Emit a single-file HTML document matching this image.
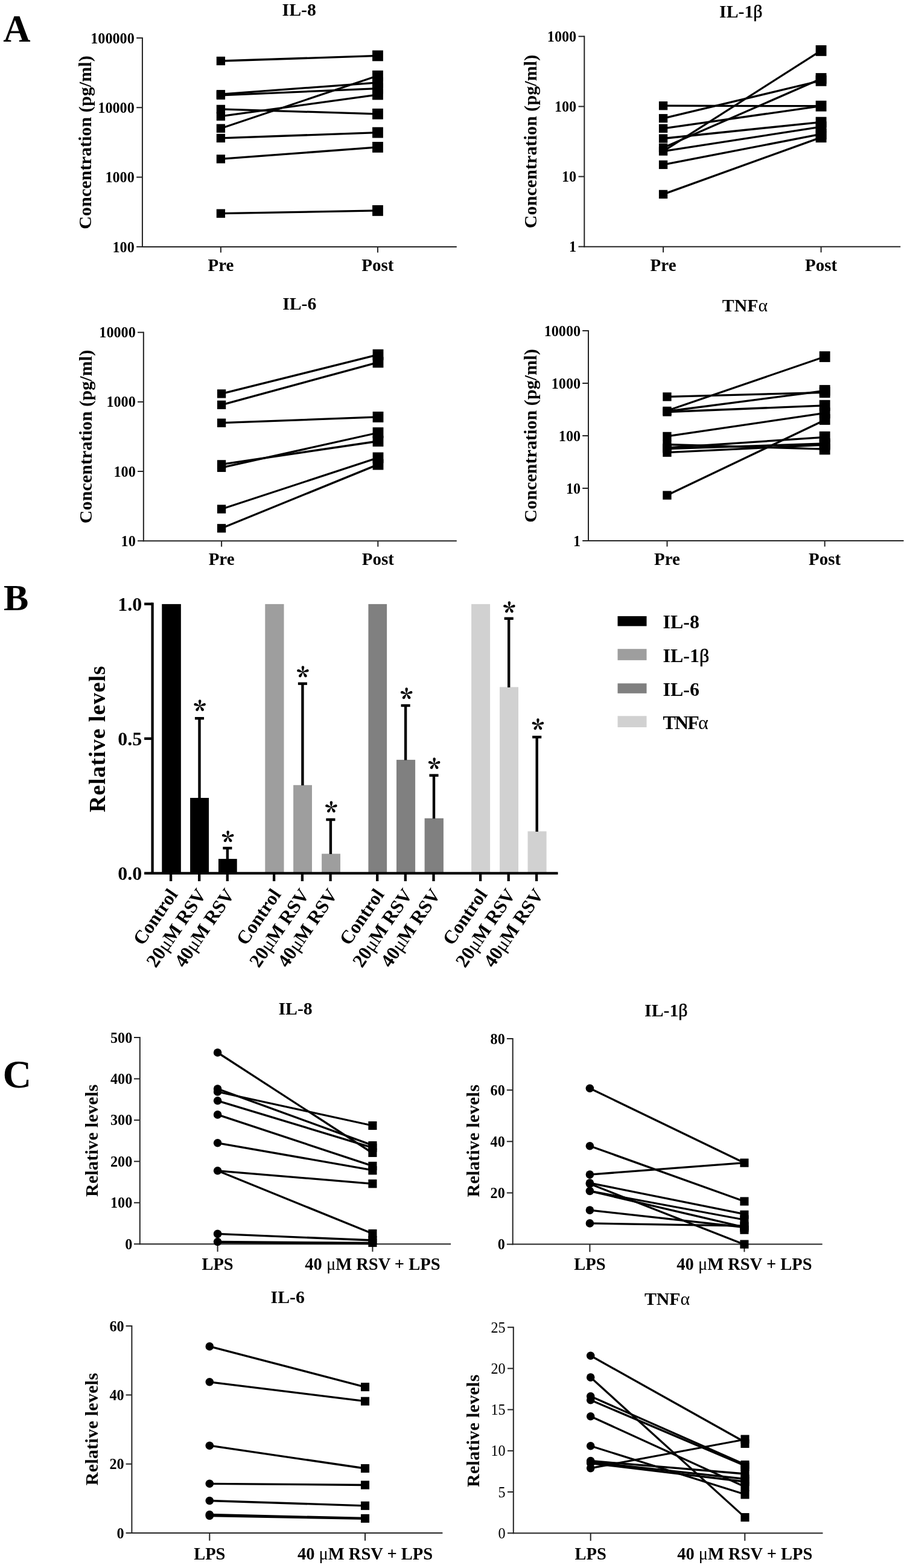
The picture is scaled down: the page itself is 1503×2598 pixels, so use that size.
<!DOCTYPE html>
<html lang="en">
<head>
<meta charset="utf-8">
<title>Cytokine levels: IL-8, IL-1β, IL-6, TNFα</title>
<style>
html,body{margin:0;padding:0;background:#fff;}
body{width:1503px;height:2598px;overflow:hidden;}
svg{display:block;font-family:"Liberation Serif","DejaVu Serif",serif;font-weight:bold;fill:#000;}
.ax{stroke:#242424;stroke-width:2;}
.bx{stroke:#000;stroke-width:4.3;}
.eb{stroke:#000;stroke-width:4.4;}
.ln{stroke:#000;stroke-width:3.3;}
.tk{font-size:24.2px;text-anchor:end;}
.xl{text-anchor:middle;}
.ti{font-size:29.8px;text-anchor:middle;}
.yl{font-size:30px;text-anchor:middle;}
.rl{font-size:31.5px;text-anchor:end;}
.lg{font-size:32px;}
.mu{font-weight:normal;}
.sb{font-weight:normal;stroke:#000;stroke-width:0.7px;}
.ast{font-family:"Noto Serif CJK SC","Liberation Serif",serif;font-size:42.5px;font-weight:900;text-anchor:middle;}
</style>
</head>
<body>
<svg width="1503" height="2598" viewBox="0 0 1503 2598" role="img" aria-label="Figure: cytokine concentrations and relative levels (panels A, B, C)">
<rect x="0" y="0" width="1503" height="2598" fill="#fff"/>
<g id="A-IL8" aria-label="Panel A: IL-8 concentration, Pre vs Post">
<g class="axes">
<line class="ax" x1="235.95" y1="61.9" x2="235.95" y2="409.9"/>
<line class="ax" x1="234.95" y1="408.9" x2="756.8" y2="408.9"/>
<line class="ax" x1="226.15" y1="62.9" x2="235.95" y2="62.9"/>
<line class="ax" x1="226.15" y1="178.23" x2="235.95" y2="178.23"/>
<line class="ax" x1="226.15" y1="293.57" x2="235.95" y2="293.57"/>
<line class="ax" x1="226.15" y1="408.9" x2="235.95" y2="408.9"/>
<line class="ax" x1="365.9" y1="408.9" x2="365.9" y2="418.5"/>
<line class="ax" x1="625.95" y1="408.9" x2="625.95" y2="418.5"/>
</g>
<g class="labels">
<text x="222.8" y="71.5" class="tk">100000</text>
<text x="222.8" y="186.83" class="tk">10000</text>
<text x="222.8" y="302.17" class="tk">1000</text>
<text x="222.8" y="417.5" class="tk">100</text>
<text x="365.9" y="448.7" class="xl" style="font-size:29px">Pre</text>
<text x="625.95" y="448.7" class="xl" style="font-size:29px">Post</text>
<text x="495.7" y="26" class="ti">IL-8</text>
<text transform="translate(151.3 236) rotate(-90)" class="yl" textLength="287.3" lengthAdjust="spacing">Concentration (pg/ml)</text>
</g>
<g class="pairs">
<line class="ln" x1="365.9" y1="101" x2="625.95" y2="92.4"/>
<line class="ln" x1="365.9" y1="156.2" x2="625.95" y2="136.8"/>
<line class="ln" x1="365.9" y1="157.8" x2="625.95" y2="146.6"/>
<line class="ln" x1="365.9" y1="180.9" x2="625.95" y2="188.8"/>
<line class="ln" x1="365.9" y1="192.7" x2="625.95" y2="156.9"/>
<line class="ln" x1="365.9" y1="212.7" x2="625.95" y2="125.5"/>
<line class="ln" x1="365.9" y1="228.9" x2="625.95" y2="219.6"/>
<line class="ln" x1="365.9" y1="263.4" x2="625.95" y2="243.9"/>
<line class="ln" x1="365.9" y1="353.7" x2="625.95" y2="348.9"/>
</g>
<g class="markers">
<rect x="358.75" y="93.85" width="14.3" height="14.3"/>
<rect x="358.75" y="149.05" width="14.3" height="14.3"/>
<rect x="358.75" y="150.65" width="14.3" height="14.3"/>
<rect x="358.75" y="173.75" width="14.3" height="14.3"/>
<rect x="358.75" y="185.55" width="14.3" height="14.3"/>
<rect x="358.75" y="205.55" width="14.3" height="14.3"/>
<rect x="358.75" y="221.75" width="14.3" height="14.3"/>
<rect x="358.75" y="256.25" width="14.3" height="14.3"/>
<rect x="358.75" y="346.55" width="14.3" height="14.3"/>
<rect x="617.05" y="83.5" width="17.8" height="17.8"/>
<rect x="617.05" y="116.8" width="17.8" height="17.8"/>
<rect x="617.05" y="127.9" width="17.8" height="17.8"/>
<rect x="617.05" y="137.7" width="17.8" height="17.8"/>
<rect x="617.05" y="147.6" width="17.8" height="17.8"/>
<rect x="617.05" y="179.9" width="17.8" height="17.8"/>
<rect x="617.05" y="210.7" width="17.8" height="17.8"/>
<rect x="617.05" y="235" width="17.8" height="17.8"/>
<rect x="617.05" y="340" width="17.8" height="17.8"/>
</g>
</g>
<g id="A-IL1b" aria-label="Panel A: IL-1β concentration, Pre vs Post">
<g class="axes">
<line class="ax" x1="968.3" y1="59.3" x2="968.3" y2="409.66"/>
<line class="ax" x1="967.3" y1="408.66" x2="1492.2" y2="408.66"/>
<line class="ax" x1="958.5" y1="60.3" x2="968.3" y2="60.3"/>
<line class="ax" x1="958.5" y1="176.42" x2="968.3" y2="176.42"/>
<line class="ax" x1="958.5" y1="292.54" x2="968.3" y2="292.54"/>
<line class="ax" x1="958.5" y1="408.66" x2="968.3" y2="408.66"/>
<line class="ax" x1="1099.05" y1="408.66" x2="1099.05" y2="418.26"/>
<line class="ax" x1="1360.6" y1="408.66" x2="1360.6" y2="418.26"/>
</g>
<g class="labels">
<text x="955.2" y="68.9" class="tk">1000</text>
<text x="955.2" y="185.02" class="tk">100</text>
<text x="955.2" y="301.14" class="tk">10</text>
<text x="955.2" y="417.26" class="tk">1</text>
<text x="1099.05" y="448.7" class="xl" style="font-size:29px">Pre</text>
<text x="1360.6" y="448.7" class="xl" style="font-size:29px">Post</text>
<text x="1227.8" y="28.8" class="ti">IL-1<tspan class="sb">β</tspan></text>
<text transform="translate(889.2 234.5) rotate(-90)" class="yl" textLength="287.3" lengthAdjust="spacing">Concentration (pg/ml)</text>
</g>
<g class="pairs">
<line class="ln" x1="1099.05" y1="175.2" x2="1360.6" y2="175.7"/>
<line class="ln" x1="1099.05" y1="196.1" x2="1360.6" y2="133.5"/>
<line class="ln" x1="1099.05" y1="212.8" x2="1360.6" y2="175.7"/>
<line class="ln" x1="1099.05" y1="229.5" x2="1360.6" y2="202.3"/>
<line class="ln" x1="1099.05" y1="244.8" x2="1360.6" y2="130.5"/>
<line class="ln" x1="1099.05" y1="250.6" x2="1360.6" y2="83.9"/>
<line class="ln" x1="1099.05" y1="250.6" x2="1360.6" y2="210.1"/>
<line class="ln" x1="1099.05" y1="272.9" x2="1360.6" y2="222.1"/>
<line class="ln" x1="1099.05" y1="321.9" x2="1360.6" y2="227.6"/>
</g>
<g class="markers">
<rect x="1091.9" y="168.05" width="14.3" height="14.3"/>
<rect x="1091.9" y="188.95" width="14.3" height="14.3"/>
<rect x="1091.9" y="205.65" width="14.3" height="14.3"/>
<rect x="1091.9" y="222.35" width="14.3" height="14.3"/>
<rect x="1091.9" y="237.65" width="14.3" height="14.3"/>
<rect x="1091.9" y="243.45" width="14.3" height="14.3"/>
<rect x="1091.9" y="265.75" width="14.3" height="14.3"/>
<rect x="1091.9" y="314.75" width="14.3" height="14.3"/>
<rect x="1351.7" y="75" width="17.8" height="17.8"/>
<rect x="1351.7" y="121.1" width="17.8" height="17.8"/>
<rect x="1351.7" y="124.9" width="17.8" height="17.8"/>
<rect x="1351.7" y="166.8" width="17.8" height="17.8"/>
<rect x="1351.7" y="193.7" width="17.8" height="17.8"/>
<rect x="1351.7" y="201.2" width="17.8" height="17.8"/>
<rect x="1351.7" y="213.2" width="17.8" height="17.8"/>
<rect x="1351.7" y="218.3" width="17.8" height="17.8"/>
</g>
</g>
<g id="A-IL6" aria-label="Panel A: IL-6 concentration, Pre vs Post">
<g class="axes">
<line class="ax" x1="237.85" y1="549.7" x2="237.85" y2="897.2"/>
<line class="ax" x1="236.85" y1="896.2" x2="756.8" y2="896.2"/>
<line class="ax" x1="228.05" y1="550.7" x2="237.85" y2="550.7"/>
<line class="ax" x1="228.05" y1="665.87" x2="237.85" y2="665.87"/>
<line class="ax" x1="228.05" y1="781.03" x2="237.85" y2="781.03"/>
<line class="ax" x1="228.05" y1="896.2" x2="237.85" y2="896.2"/>
<line class="ax" x1="367.1" y1="896.2" x2="367.1" y2="905.8"/>
<line class="ax" x1="626.3" y1="896.2" x2="626.3" y2="905.8"/>
</g>
<g class="labels">
<text x="224.8" y="559.3" class="tk">10000</text>
<text x="224.8" y="674.47" class="tk">1000</text>
<text x="224.8" y="789.63" class="tk">100</text>
<text x="224.8" y="904.8" class="tk">10</text>
<text x="367.1" y="936.1" class="xl" style="font-size:29px">Pre</text>
<text x="626.3" y="936.1" class="xl" style="font-size:29px">Post</text>
<text x="496.3" y="512.5" class="ti">IL-6</text>
<text transform="translate(151.5 723.5) rotate(-90)" class="yl" textLength="287.3" lengthAdjust="spacing">Concentration (pg/ml)</text>
</g>
<g class="pairs">
<line class="ln" x1="367.1" y1="652.4" x2="626.5" y2="587.7"/>
<line class="ln" x1="367.1" y1="670.8" x2="626.5" y2="600.3"/>
<line class="ln" x1="367.1" y1="700.7" x2="626.5" y2="690.9"/>
<line class="ln" x1="367.1" y1="769.4" x2="626.5" y2="731"/>
<line class="ln" x1="367.1" y1="774.8" x2="626.5" y2="717"/>
<line class="ln" x1="367.1" y1="843.5" x2="626.5" y2="758.4"/>
<line class="ln" x1="367.1" y1="875.3" x2="626.5" y2="769.6"/>
</g>
<g class="markers">
<rect x="359.95" y="645.25" width="14.3" height="14.3"/>
<rect x="359.95" y="663.65" width="14.3" height="14.3"/>
<rect x="359.95" y="693.55" width="14.3" height="14.3"/>
<rect x="359.95" y="762.25" width="14.3" height="14.3"/>
<rect x="359.95" y="767.65" width="14.3" height="14.3"/>
<rect x="359.95" y="836.35" width="14.3" height="14.3"/>
<rect x="359.95" y="868.15" width="14.3" height="14.3"/>
<rect x="617.6" y="578.8" width="17.8" height="17.8"/>
<rect x="617.6" y="591.4" width="17.8" height="17.8"/>
<rect x="617.6" y="682" width="17.8" height="17.8"/>
<rect x="617.6" y="708.1" width="17.8" height="17.8"/>
<rect x="617.6" y="722.1" width="17.8" height="17.8"/>
<rect x="617.6" y="749.5" width="17.8" height="17.8"/>
<rect x="617.6" y="760.7" width="17.8" height="17.8"/>
</g>
</g>
<g id="A-TNFa" aria-label="Panel A: TNFα concentration, Pre vs Post">
<g class="axes">
<line class="ax" x1="975" y1="547" x2="975" y2="897"/>
<line class="ax" x1="974" y1="896" x2="1497.5" y2="896"/>
<line class="ax" x1="965.2" y1="548" x2="975" y2="548"/>
<line class="ax" x1="965.2" y1="635" x2="975" y2="635"/>
<line class="ax" x1="965.2" y1="722" x2="975" y2="722"/>
<line class="ax" x1="965.2" y1="809" x2="975" y2="809"/>
<line class="ax" x1="965.2" y1="896" x2="975" y2="896"/>
<line class="ax" x1="1105.5" y1="896" x2="1105.5" y2="905.6"/>
<line class="ax" x1="1366.7" y1="896" x2="1366.7" y2="905.6"/>
</g>
<g class="labels">
<text x="962.1" y="556.6" class="tk">10000</text>
<text x="962.1" y="643.6" class="tk">1000</text>
<text x="962.1" y="730.6" class="tk">100</text>
<text x="962.1" y="817.6" class="tk">10</text>
<text x="962.1" y="904.6" class="tk">1</text>
<text x="1105.5" y="936.1" class="xl" style="font-size:29px">Pre</text>
<text x="1366.7" y="936.1" class="xl" style="font-size:29px">Post</text>
<text x="1234.4" y="516.1" class="ti">TNF<tspan class="mu">α</tspan></text>
<text transform="translate(889.2 722) rotate(-90)" class="yl" textLength="287.3" lengthAdjust="spacing">Concentration (pg/ml)</text>
</g>
<g class="pairs">
<line class="ln" x1="1105.45" y1="657.4" x2="1366.7" y2="650.3"/>
<line class="ln" x1="1105.45" y1="680.5" x2="1366.7" y2="591"/>
<line class="ln" x1="1105.45" y1="681.5" x2="1366.7" y2="647.5"/>
<line class="ln" x1="1105.45" y1="682.5" x2="1366.7" y2="671.9"/>
<line class="ln" x1="1105.45" y1="722.9" x2="1366.7" y2="684.4"/>
<line class="ln" x1="1105.45" y1="820.6" x2="1366.7" y2="695.9"/>
<line class="ln" x1="1105.45" y1="736.5" x2="1366.7" y2="744.1"/>
<line class="ln" x1="1105.45" y1="742" x2="1366.7" y2="724.4"/>
<line class="ln" x1="1105.45" y1="743.5" x2="1366.7" y2="735"/>
<line class="ln" x1="1105.45" y1="749.7" x2="1366.7" y2="737"/>
</g>
<g class="markers">
<rect x="1098.3" y="650.25" width="14.3" height="14.3"/>
<rect x="1098.3" y="673.75" width="14.3" height="14.3"/>
<rect x="1098.3" y="675.35" width="14.3" height="14.3"/>
<rect x="1098.3" y="715.75" width="14.3" height="14.3"/>
<rect x="1098.3" y="729.35" width="14.3" height="14.3"/>
<rect x="1098.3" y="734.85" width="14.3" height="14.3"/>
<rect x="1098.3" y="736.35" width="14.3" height="14.3"/>
<rect x="1098.3" y="742.55" width="14.3" height="14.3"/>
<rect x="1098.3" y="813.45" width="14.3" height="14.3"/>
<rect x="1357.8" y="582.1" width="17.8" height="17.8"/>
<rect x="1357.8" y="637.9" width="17.8" height="17.8"/>
<rect x="1357.8" y="641.2" width="17.8" height="17.8"/>
<rect x="1357.8" y="662.8" width="17.8" height="17.8"/>
<rect x="1357.8" y="675.5" width="17.8" height="17.8"/>
<rect x="1357.8" y="686.1" width="17.8" height="17.8"/>
<rect x="1357.8" y="714.8" width="17.8" height="17.8"/>
<rect x="1357.8" y="726.1" width="17.8" height="17.8"/>
<rect x="1357.8" y="728.1" width="17.8" height="17.8"/>
<rect x="1357.8" y="735.5" width="17.8" height="17.8"/>
</g>
</g>
<g id="B-bars" aria-label="Panel B: relative cytokine levels, Control vs 20 μM and 40 μM RSV">
<g class="bars">
<rect x="268.3" y="1000.9" width="31.55" height="445.95"/>
<rect x="315.1" y="1322" width="31" height="124.85"/>
<rect x="362" y="1423.1" width="30.7" height="23.75"/>
<rect fill="#9e9e9e" x="439.3" y="1000.9" width="31.2" height="445.95"/>
<rect fill="#9e9e9e" x="486.1" y="1300.8" width="30.9" height="146.05"/>
<rect fill="#9e9e9e" x="533.1" y="1414.6" width="30.9" height="32.25"/>
<rect fill="#808080" x="610.4" y="1000.9" width="30.7" height="445.95"/>
<rect fill="#808080" x="657" y="1258.9" width="31.1" height="187.95"/>
<rect fill="#808080" x="703.6" y="1355.8" width="31.3" height="91.05"/>
<rect fill="#d1d1d1" x="781.1" y="1000.9" width="31" height="445.95"/>
<rect fill="#d1d1d1" x="828.05" y="1138.4" width="30.95" height="308.45"/>
<rect fill="#d1d1d1" x="874.5" y="1377.4" width="31.1" height="69.45"/>
</g>
<g class="errors">
<line class="eb" x1="330.5" y1="1189" x2="330.5" y2="1322.5"/>
<rect x="322.95" y="1188" width="15.1" height="4.4"/>
<line class="eb" x1="376.9" y1="1404" x2="376.9" y2="1423.6"/>
<rect x="369.35" y="1403" width="15.1" height="4.4"/>
<line class="eb" x1="501.4" y1="1131.5" x2="501.4" y2="1301.3"/>
<rect x="493.85" y="1130.5" width="15.1" height="4.4"/>
<line class="eb" x1="547.9" y1="1356.8" x2="547.9" y2="1415.1"/>
<rect x="540.35" y="1355.8" width="15.1" height="4.4"/>
<line class="eb" x1="672.1" y1="1167.8" x2="672.1" y2="1259.4"/>
<rect x="664.55" y="1166.8" width="15.1" height="4.4"/>
<line class="eb" x1="719" y1="1283.5" x2="719" y2="1356.3"/>
<rect x="711.45" y="1282.5" width="15.1" height="4.4"/>
<line class="eb" x1="843.2" y1="1023.6" x2="843.2" y2="1138.9"/>
<rect x="835.65" y="1022.6" width="15.1" height="4.4"/>
<line class="eb" x1="889.7" y1="1220" x2="889.7" y2="1377.9"/>
<rect x="882.15" y="1219" width="15.1" height="4.4"/>
</g>
<g class="stars">
<text x="331.2" y="1194.65" class="ast">*</text>
<text x="377.65" y="1412.25" class="ast">*</text>
<text x="501.9" y="1139.15" class="ast">*</text>
<text x="548.8" y="1363.1" class="ast">*</text>
<text x="673.7" y="1175" class="ast">*</text>
<text x="719.7" y="1290.9" class="ast">*</text>
<text x="843.9" y="1031.95" class="ast">*</text>
<text x="891.5" y="1226.2" class="ast">*</text>
</g>
<g class="axes">
<line class="bx" x1="252.6" y1="998.55" x2="252.6" y2="1449"/>
<line class="bx" x1="250.45" y1="1446.85" x2="924.5" y2="1446.85"/>
<line class="bx" x1="239.1" y1="1000.7" x2="252.6" y2="1000.7"/>
<line class="bx" x1="239.1" y1="1223.8" x2="252.6" y2="1223.8"/>
<line class="bx" x1="239.1" y1="1446.85" x2="252.6" y2="1446.85"/>
<line class="bx" x1="283.1" y1="1446.85" x2="283.1" y2="1460.05"/>
<line class="bx" x1="330.2" y1="1446.85" x2="330.2" y2="1460.05"/>
<line class="bx" x1="376.8" y1="1446.85" x2="376.8" y2="1460.05"/>
<line class="bx" x1="454.1" y1="1446.85" x2="454.1" y2="1460.05"/>
<line class="bx" x1="500.9" y1="1446.85" x2="500.9" y2="1460.05"/>
<line class="bx" x1="547.6" y1="1446.85" x2="547.6" y2="1460.05"/>
<line class="bx" x1="625.2" y1="1446.85" x2="625.2" y2="1460.05"/>
<line class="bx" x1="671.8" y1="1446.85" x2="671.8" y2="1460.05"/>
<line class="bx" x1="718.5" y1="1446.85" x2="718.5" y2="1460.05"/>
<line class="bx" x1="796.1" y1="1446.85" x2="796.1" y2="1460.05"/>
<line class="bx" x1="842.7" y1="1446.85" x2="842.7" y2="1460.05"/>
<line class="bx" x1="889.1" y1="1446.85" x2="889.1" y2="1460.05"/>
</g>
<g class="labels">
<text x="235.2" y="1011.7" class="tk" style="font-size:32px">1.0</text>
<text x="235.2" y="1234.8" class="tk" style="font-size:32px">0.5</text>
<text x="235.2" y="1457.85" class="tk" style="font-size:32px">0.0</text>
<text class="rl" transform="translate(295.6 1482) rotate(-55.5)">Control</text>
<text class="rl" transform="translate(342.7 1482) rotate(-55.5)">20<tspan class="mu">μ</tspan>M RSV</text>
<text class="rl" transform="translate(389.3 1482) rotate(-55.5)">40<tspan class="mu">μ</tspan>M RSV</text>
<text class="rl" transform="translate(466.6 1482) rotate(-55.5)">Control</text>
<text class="rl" transform="translate(513.4 1482) rotate(-55.5)">20<tspan class="mu">μ</tspan>M RSV</text>
<text class="rl" transform="translate(560.1 1482) rotate(-55.5)">40<tspan class="mu">μ</tspan>M RSV</text>
<text class="rl" transform="translate(637.7 1482) rotate(-55.5)">Control</text>
<text class="rl" transform="translate(684.3 1482) rotate(-55.5)">20<tspan class="mu">μ</tspan>M RSV</text>
<text class="rl" transform="translate(731 1482) rotate(-55.5)">40<tspan class="mu">μ</tspan>M RSV</text>
<text class="rl" transform="translate(808.6 1482) rotate(-55.5)">Control</text>
<text class="rl" transform="translate(855.2 1482) rotate(-55.5)">20<tspan class="mu">μ</tspan>M RSV</text>
<text class="rl" transform="translate(901.6 1482) rotate(-55.5)">40<tspan class="mu">μ</tspan>M RSV</text>
<text transform="translate(173.9 1224.7) rotate(-90)" class="yl" style="font-size:38px" textLength="242.5" lengthAdjust="spacing">Relative levels</text>
</g>
<g class="legend">
<rect x="1023.5" y="1020.9" width="48" height="16.5"/>
<text x="1098.5" y="1040.9" class="lg">IL-8</text>
<rect fill="#9e9e9e" x="1023.5" y="1075.2" width="48" height="18.7"/>
<text x="1098.5" y="1096.6" class="lg">IL-1<tspan class="sb">β</tspan></text>
<rect fill="#808080" x="1023.5" y="1132.3" width="48" height="16.5"/>
<text x="1098.5" y="1152.9" class="lg">IL-6</text>
<rect fill="#d1d1d1" x="1023.5" y="1186.3" width="48" height="18.7"/>
<text x="1098.5" y="1208.3" class="lg" textLength="75.3" lengthAdjust="spacing">TNF<tspan class="mu">α</tspan></text>
</g>
</g>
<g id="C-IL8" aria-label="Panel C: IL-8 relative levels, LPS vs 40 μM RSV + LPS">
<g class="axes">
<line class="ax" x1="231.8" y1="1718" x2="231.8" y2="2062.2"/>
<line class="ax" x1="230.8" y1="2061.2" x2="747.1" y2="2061.2"/>
<line class="ax" x1="222" y1="1719" x2="231.8" y2="1719"/>
<line class="ax" x1="222" y1="1787.44" x2="231.8" y2="1787.44"/>
<line class="ax" x1="222" y1="1855.88" x2="231.8" y2="1855.88"/>
<line class="ax" x1="222" y1="1924.32" x2="231.8" y2="1924.32"/>
<line class="ax" x1="222" y1="1992.76" x2="231.8" y2="1992.76"/>
<line class="ax" x1="222" y1="2061.2" x2="231.8" y2="2061.2"/>
<line class="ax" x1="360.6" y1="2061.2" x2="360.6" y2="2073.9"/>
<line class="ax" x1="617.4" y1="2061.2" x2="617.4" y2="2073.9"/>
</g>
<g class="labels">
<text x="219.3" y="1727.6" class="tk">500</text>
<text x="219.3" y="1796.04" class="tk">400</text>
<text x="219.3" y="1864.48" class="tk">300</text>
<text x="219.3" y="1932.92" class="tk">200</text>
<text x="219.3" y="2001.36" class="tk">100</text>
<text x="219.3" y="2069.8" class="tk">0</text>
<text x="360.6" y="2104.4" class="xl" style="font-size:28.5px">LPS</text>
<text x="617.4" y="2104.4" class="xl" style="font-size:28.5px">40 <tspan class="mu">μ</tspan>M RSV + LPS</text>
<text x="489.6" y="1680.6" class="ti">IL-8</text>
<text transform="translate(162.4 1889.9) rotate(-90)" class="yl" textLength="186.3" lengthAdjust="spacing">Relative levels</text>
</g>
<g class="pairs">
<line class="ln" x1="360.6" y1="1744" x2="617.4" y2="1910.5"/>
<line class="ln" x1="360.6" y1="1804.1" x2="617.4" y2="1897.6"/>
<line class="ln" x1="360.6" y1="1809" x2="617.4" y2="1865"/>
<line class="ln" x1="360.6" y1="1823.8" x2="617.4" y2="1901.6"/>
<line class="ln" x1="360.6" y1="1846.9" x2="617.4" y2="1931.9"/>
<line class="ln" x1="360.6" y1="1893.8" x2="617.4" y2="1938.8"/>
<line class="ln" x1="360.6" y1="1939.8" x2="617.4" y2="1961.3"/>
<line class="ln" x1="360.6" y1="1939.8" x2="617.4" y2="2044"/>
<line class="ln" x1="360.6" y1="2044.4" x2="617.4" y2="2055"/>
<line class="ln" x1="360.6" y1="2057.5" x2="617.4" y2="2059.5"/>
<line class="ln" x1="360.6" y1="2058.3" x2="617.4" y2="2060.5"/>
</g>
<g class="markers">
<circle cx="360.6" cy="1744" r="6.8"/>
<circle cx="360.6" cy="1804.1" r="6.8"/>
<circle cx="360.6" cy="1809" r="6.8"/>
<circle cx="360.6" cy="1823.8" r="6.8"/>
<circle cx="360.6" cy="1846.9" r="6.8"/>
<circle cx="360.6" cy="1893.8" r="6.8"/>
<circle cx="360.6" cy="1939.8" r="6.8"/>
<circle cx="360.6" cy="2044.4" r="6.8"/>
<circle cx="360.6" cy="2057.5" r="6.8"/>
<rect x="610.35" y="1857.95" width="14.1" height="14.1"/>
<rect x="610.35" y="1890.95" width="14.1" height="14.1"/>
<rect x="610.35" y="1894.55" width="14.1" height="14.1"/>
<rect x="610.35" y="1902.95" width="14.1" height="14.1"/>
<rect x="610.35" y="1924.85" width="14.1" height="14.1"/>
<rect x="610.35" y="1932.25" width="14.1" height="14.1"/>
<rect x="610.35" y="1954.25" width="14.1" height="14.1"/>
<rect x="610.35" y="2036.95" width="14.1" height="14.1"/>
<rect x="610.35" y="2047.95" width="14.1" height="14.1"/>
<rect x="610.35" y="2051.95" width="14.1" height="14.1"/>
</g>
</g>
<g id="C-IL1b" aria-label="Panel C: IL-1β relative levels, LPS vs 40 μM RSV + LPS">
<g class="axes">
<line class="ax" x1="849.7" y1="1720" x2="849.7" y2="2062.6"/>
<line class="ax" x1="848.7" y1="2061.6" x2="1362.7" y2="2061.6"/>
<line class="ax" x1="839.9" y1="1721" x2="849.7" y2="1721"/>
<line class="ax" x1="839.9" y1="1806.15" x2="849.7" y2="1806.15"/>
<line class="ax" x1="839.9" y1="1891.3" x2="849.7" y2="1891.3"/>
<line class="ax" x1="839.9" y1="1976.45" x2="849.7" y2="1976.45"/>
<line class="ax" x1="839.9" y1="2061.6" x2="849.7" y2="2061.6"/>
<line class="ax" x1="977.4" y1="2061.6" x2="977.4" y2="2074.3"/>
<line class="ax" x1="1233.45" y1="2061.6" x2="1233.45" y2="2074.3"/>
</g>
<g class="labels">
<text x="836.8" y="1729.6" class="tk">80</text>
<text x="836.8" y="1814.75" class="tk">60</text>
<text x="836.8" y="1899.9" class="tk">40</text>
<text x="836.8" y="1985.05" class="tk">20</text>
<text x="836.8" y="2070.2" class="tk">0</text>
<text x="977.4" y="2104.4" class="xl" style="font-size:28.5px">LPS</text>
<text x="1233.45" y="2104.4" class="xl" style="font-size:28.5px">40 <tspan class="mu">μ</tspan>M RSV + LPS</text>
<text x="1103.8" y="1683.9" class="ti">IL-1<tspan class="sb">β</tspan></text>
<text transform="translate(794.1 1890.3) rotate(-90)" class="yl" textLength="186.3" lengthAdjust="spacing">Relative levels</text>
</g>
<g class="pairs">
<line class="ln" x1="977.4" y1="1803.2" x2="1233.45" y2="1926.7"/>
<line class="ln" x1="977.4" y1="1898.8" x2="1233.45" y2="1990.5"/>
<line class="ln" x1="977.4" y1="1946.1" x2="1233.45" y2="1926.7"/>
<line class="ln" x1="977.4" y1="1960.1" x2="1233.45" y2="2011.7"/>
<line class="ln" x1="977.4" y1="1961.5" x2="1233.45" y2="2062"/>
<line class="ln" x1="977.4" y1="1973.4" x2="1233.45" y2="2021"/>
<line class="ln" x1="977.4" y1="1973.4" x2="1233.45" y2="2033.4"/>
<line class="ln" x1="977.4" y1="2005.1" x2="1233.45" y2="2033.5"/>
<line class="ln" x1="977.4" y1="2026.9" x2="1233.45" y2="2031.2"/>
</g>
<g class="markers">
<circle cx="977.4" cy="1803.2" r="6.8"/>
<circle cx="977.4" cy="1898.8" r="6.8"/>
<circle cx="977.4" cy="1946.1" r="6.8"/>
<circle cx="977.4" cy="1960.1" r="6.8"/>
<circle cx="977.4" cy="1961.5" r="6.8"/>
<circle cx="977.4" cy="1973.4" r="6.8"/>
<circle cx="977.4" cy="2005.1" r="6.8"/>
<circle cx="977.4" cy="2026.9" r="6.8"/>
<rect x="1226.4" y="1919.65" width="14.1" height="14.1"/>
<rect x="1226.4" y="1983.45" width="14.1" height="14.1"/>
<rect x="1226.4" y="2005.55" width="14.1" height="14.1"/>
<rect x="1226.4" y="2013.45" width="14.1" height="14.1"/>
<rect x="1226.4" y="2024.45" width="14.1" height="14.1"/>
<rect x="1226.4" y="2027.15" width="14.1" height="14.1"/>
<rect x="1226.4" y="2030.65" width="14.1" height="14.1"/>
<rect x="1226.4" y="2054.55" width="14.1" height="14.1"/>
</g>
</g>
<g id="C-IL6" aria-label="Panel C: IL-6 relative levels, LPS vs 40 μM RSV + LPS">
<g class="axes">
<line class="ax" x1="218.4" y1="2196" x2="218.4" y2="2541"/>
<line class="ax" x1="217.4" y1="2540" x2="733.4" y2="2540"/>
<line class="ax" x1="208.6" y1="2197" x2="218.4" y2="2197"/>
<line class="ax" x1="208.6" y1="2311.33" x2="218.4" y2="2311.33"/>
<line class="ax" x1="208.6" y1="2425.67" x2="218.4" y2="2425.67"/>
<line class="ax" x1="208.6" y1="2540" x2="218.4" y2="2540"/>
<line class="ax" x1="347.3" y1="2540" x2="347.3" y2="2552.7"/>
<line class="ax" x1="605" y1="2540" x2="605" y2="2552.7"/>
</g>
<g class="labels">
<text x="205.6" y="2205.6" class="tk">60</text>
<text x="205.6" y="2319.93" class="tk">40</text>
<text x="205.6" y="2434.27" class="tk">20</text>
<text x="205.6" y="2548.6" class="tk">0</text>
<text x="347.3" y="2584.2" class="xl" style="font-size:28.5px">LPS</text>
<text x="605" y="2584.2" class="xl" style="font-size:28.5px">40 <tspan class="mu">μ</tspan>M RSV + LPS</text>
<text x="476.7" y="2159" class="ti">IL-6</text>
<text transform="translate(162.4 2368) rotate(-90)" class="yl" textLength="186.3" lengthAdjust="spacing">Relative levels</text>
</g>
<g class="pairs">
<line class="ln" x1="347.3" y1="2230.9" x2="605" y2="2298.1"/>
<line class="ln" x1="347.3" y1="2289.8" x2="605" y2="2321.7"/>
<line class="ln" x1="347.3" y1="2395.2" x2="605" y2="2433"/>
<line class="ln" x1="347.3" y1="2458.3" x2="605" y2="2460.5"/>
<line class="ln" x1="347.3" y1="2486.5" x2="605" y2="2494.8"/>
<line class="ln" x1="347.3" y1="2509.5" x2="605" y2="2515.5"/>
<line class="ln" x1="347.3" y1="2511.5" x2="605" y2="2516.3"/>
</g>
<g class="markers">
<circle cx="347.3" cy="2230.9" r="6.8"/>
<circle cx="347.3" cy="2289.8" r="6.8"/>
<circle cx="347.3" cy="2395.2" r="6.8"/>
<circle cx="347.3" cy="2458.3" r="6.8"/>
<circle cx="347.3" cy="2486.5" r="6.8"/>
<circle cx="347.3" cy="2509.5" r="6.8"/>
<circle cx="347.3" cy="2511.5" r="6.8"/>
<rect x="597.95" y="2291.05" width="14.1" height="14.1"/>
<rect x="597.95" y="2314.65" width="14.1" height="14.1"/>
<rect x="597.95" y="2425.95" width="14.1" height="14.1"/>
<rect x="597.95" y="2453.45" width="14.1" height="14.1"/>
<rect x="597.95" y="2487.75" width="14.1" height="14.1"/>
<rect x="597.95" y="2508.85" width="14.1" height="14.1"/>
</g>
</g>
<g id="C-TNFa" aria-label="Panel C: TNFα relative levels, LPS vs 40 μM RSV + LPS">
<g class="axes">
<line class="ax" x1="850.8" y1="2198.2" x2="850.8" y2="2541.2"/>
<line class="ax" x1="849.8" y1="2540.2" x2="1363.5" y2="2540.2"/>
<line class="ax" x1="841" y1="2199.2" x2="850.8" y2="2199.2"/>
<line class="ax" x1="841" y1="2267.4" x2="850.8" y2="2267.4"/>
<line class="ax" x1="841" y1="2335.6" x2="850.8" y2="2335.6"/>
<line class="ax" x1="841" y1="2403.8" x2="850.8" y2="2403.8"/>
<line class="ax" x1="841" y1="2472" x2="850.8" y2="2472"/>
<line class="ax" x1="841" y1="2540.2" x2="850.8" y2="2540.2"/>
<line class="ax" x1="978.7" y1="2540.2" x2="978.7" y2="2552.9"/>
<line class="ax" x1="1234.3" y1="2540.2" x2="1234.3" y2="2552.9"/>
</g>
<g class="labels">
<text x="837.7" y="2207.8" class="tk" style="font-weight:normal">25</text>
<text x="837.7" y="2276" class="tk" style="font-weight:normal">20</text>
<text x="837.7" y="2344.2" class="tk" style="font-weight:normal">15</text>
<text x="837.7" y="2412.4" class="tk" style="font-weight:normal">10</text>
<text x="837.7" y="2480.6" class="tk" style="font-weight:normal">5</text>
<text x="837.7" y="2548.8" class="tk" style="font-weight:normal">0</text>
<text x="978.7" y="2584.2" class="xl" style="font-size:28.5px">LPS</text>
<text x="1234.3" y="2584.2" class="xl" style="font-size:28.5px">40 <tspan class="mu">μ</tspan>M RSV + LPS</text>
<text x="1105.6" y="2162.3" class="ti">TNF<tspan class="mu">α</tspan></text>
<text transform="translate(794.1 2370.8) rotate(-90)" class="yl" textLength="186.3" lengthAdjust="spacing">Relative levels</text>
</g>
<g class="pairs">
<line class="ln" x1="978.7" y1="2246.3" x2="1234.5" y2="2389.5"/>
<line class="ln" x1="978.7" y1="2282.1" x2="1234.5" y2="2514.1"/>
<line class="ln" x1="978.7" y1="2313.5" x2="1234.5" y2="2426.5"/>
<line class="ln" x1="978.7" y1="2319.8" x2="1234.5" y2="2428.5"/>
<line class="ln" x1="978.7" y1="2346.7" x2="1234.5" y2="2463.5"/>
<line class="ln" x1="978.7" y1="2395.8" x2="1234.5" y2="2476"/>
<line class="ln" x1="978.7" y1="2432.6" x2="1234.5" y2="2385"/>
<line class="ln" x1="978.7" y1="2420.5" x2="1234.5" y2="2442"/>
<line class="ln" x1="978.7" y1="2422.5" x2="1234.5" y2="2450.5"/>
<line class="ln" x1="978.7" y1="2424.5" x2="1234.5" y2="2455"/>
</g>
<g class="markers">
<circle cx="978.7" cy="2246.3" r="6.8"/>
<circle cx="978.7" cy="2282.1" r="6.8"/>
<circle cx="978.7" cy="2313.5" r="6.8"/>
<circle cx="978.7" cy="2319.8" r="6.8"/>
<circle cx="978.7" cy="2346.7" r="6.8"/>
<circle cx="978.7" cy="2395.8" r="6.8"/>
<circle cx="978.7" cy="2420.5" r="6.8"/>
<circle cx="978.7" cy="2422.5" r="6.8"/>
<circle cx="978.7" cy="2424.5" r="6.8"/>
<circle cx="978.7" cy="2432.6" r="6.8"/>
<rect x="1227.45" y="2377.55" width="14.1" height="14.1"/>
<rect x="1227.45" y="2384.85" width="14.1" height="14.1"/>
<rect x="1227.45" y="2419.95" width="14.1" height="14.1"/>
<rect x="1227.45" y="2422.95" width="14.1" height="14.1"/>
<rect x="1227.45" y="2434.95" width="14.1" height="14.1"/>
<rect x="1227.45" y="2443.45" width="14.1" height="14.1"/>
<rect x="1227.45" y="2447.95" width="14.1" height="14.1"/>
<rect x="1227.45" y="2456.45" width="14.1" height="14.1"/>
<rect x="1227.45" y="2469.35" width="14.1" height="14.1"/>
<rect x="1227.45" y="2507.05" width="14.1" height="14.1"/>
</g>
</g>
<g id="panel-letters">
<text x="5.3" y="68.9" class="pl" style="font-size:62.7px">A</text>
<text x="6" y="1011.3" class="pl" style="font-size:62px">B</text>
<text x="4.4" y="1801.6" class="pl" style="font-size:66px">C</text>
</g>
</svg>
</body>
</html>
